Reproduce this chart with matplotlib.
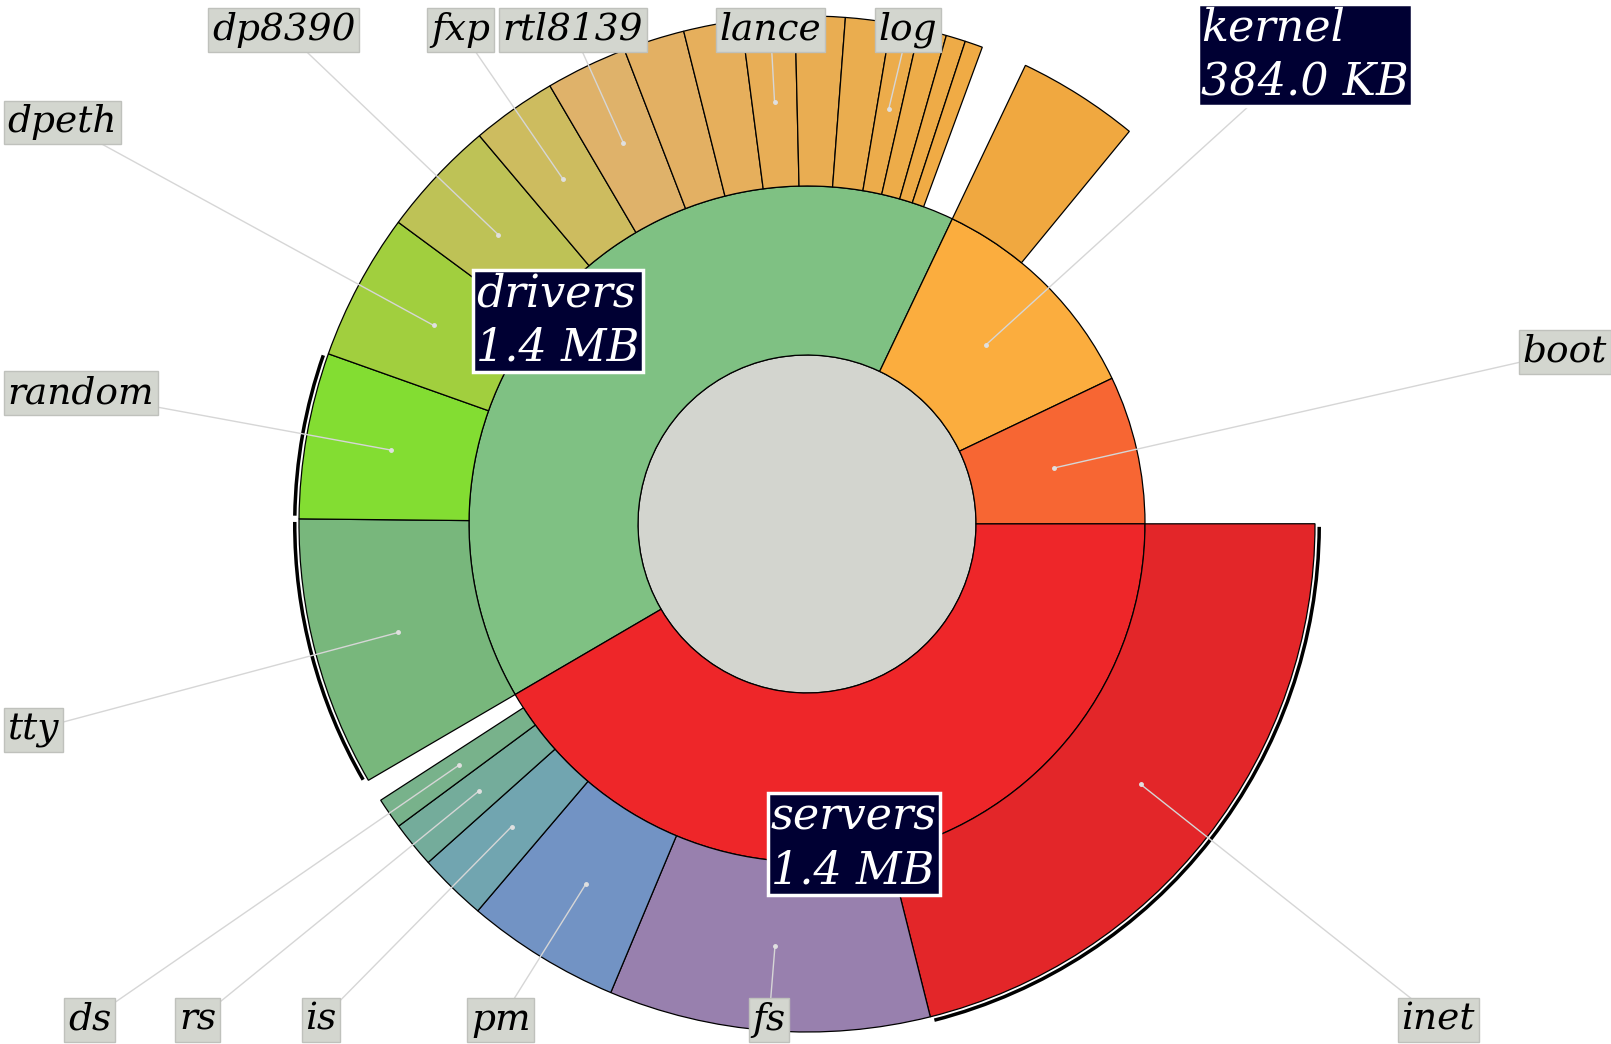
import numpy as np
import matplotlib.pyplot as plt
from matplotlib.patches import Wedge, Circle

# sizes in KB
top_names = ['drivers', 'kernel', 'boot', 'servers']
top_kb = [1435, 384, 251, 1474]

driver_names = ['tty', 'random', 'dpeth', 'dp8390', 'fxp', 'rtl8139', 'at_wini', 'floppy',
                'lance', 'printer', 'memory', 'log', 'bios_wini', 'sb16', 'pci']
driver_kb = [304, 187, 166, 132, 96, 92, 69, 65, 60, 56, 51, 32, 31, 22, 20]

kernel_names = ['system']
kernel_kb = [137]

server_names = ['inet', 'fs', 'pm', 'is', 'rs', 'ds']
server_kb = [748, 362, 174, 77, 52, 35]

children = {
    'drivers': (driver_names, driver_kb),
    'kernel': (kernel_names, kernel_kb),
    'servers': (server_names, server_kb),
}

highlighted = ['random', 'tty', 'inet']

colors = {
    'drivers': '#7fc183', 'kernel': '#fbad3e', 'boot': '#f76633', 'servers': '#ee2629',
    'tty': '#78b77c', 'random': '#83dd32', 'dpeth': '#a1cf3e', 'dp8390': '#bec256',
    'fxp': '#cdbc5f', 'rtl8139': '#dfb26a', 'at_wini': '#e3b063', 'floppy': '#e6af5c',
    'lance': '#e8ae56', 'printer': '#e9ad52', 'memory': '#eaad4f', 'log': '#ecac4b',
    'bios_wini': '#edac49', 'sb16': '#eeab47', 'pci': '#f0ab45',
    'system': '#f0a840',
    'inet': '#e32629', 'fs': '#9880ae', 'pm': '#7293c4', 'is': '#71a5b0',
    'rs': '#74ac9b', 'ds': '#78b28b',
}

# label boxes (image pixel coords, centre)
label_pos = {
    'dp8390': (283.6, 29.8), 'fxp': (460.5, 29.8), 'rtl8139': (572.5, 29.8),
    'lance': (770.6, 29.8), 'log': (907.7, 29.8),
    'dpeth': (62, 122.3), 'random': (80.5, 393), 'tty': (33.4, 730),
    'boot': (1565, 352),
    'ds': (89.4, 1020), 'rs': (197.8, 1020), 'is': (321, 1020), 'pm': (500.8, 1020),
    'fs': (769, 1020), 'inet': (1438.3, 1020),
}
big_label_pos = {'drivers': (558, 321), 'servers': (854, 844), 'kernel': (1305, 55)}
big_leader = ['kernel']

W, H = 1611, 1044
cx, cy = 807, H - 524
r0, r1, r2 = 169, 338, 508
start = 210.3


def img(x, y):
    return x, H - y


def fmt_size(kb):
    if kb >= 1024:
        return '%.1f MB' % (kb / 1024.0)
    return '%.1f KB' % kb


fig = plt.figure(figsize=(W / 100, H / 100), dpi=100)
ax = fig.add_axes([0, 0, 1, 1])
ax.set_xlim(0, W)
ax.set_ylim(0, H)
ax.set_aspect('equal')
ax.axis('off')

deg = 360.0 / sum(top_kb)
spans = {}
a = start
for name, kb in zip(top_names, top_kb):
    spans[name] = (a - kb * deg, a, r0, r1)
    a -= kb * deg
for parent, (names, kbs) in children.items():
    a = spans[parent][1]
    for name, kb in zip(names, kbs):
        spans[name] = (a - kb * deg, a, r1, r2)
        a -= kb * deg

ax.add_patch(Circle((cx, cy), r0, fc='#d3d5cf', ec='black', lw=0.9, zorder=1))
for name, (t1, t2, ri, ro) in spans.items():
    ax.add_patch(Wedge((cx, cy), ro, t1, t2, width=ro - ri, fc=colors[name],
                       ec='black', lw=0.9, zorder=1))

# black outline arcs for the selected items
for name in highlighted:
    t1, t2, ri, ro = spans[name]
    ax.add_patch(Wedge((cx, cy), ro + 6, t1 + 0.35, t2 - 0.35, width=3.5,
                       fc='black', ec='none', zorder=1))


def centroid(name):
    t1, t2, ri, ro = spans[name]
    t = np.radians((t1 + t2) / 2)
    r = (ri + ro) / 2
    return cx + r * np.cos(t), cy + r * np.sin(t)


font = dict(family='DejaVu Serif', style='italic')

for name, (x, y) in label_pos.items():
    lx, ly = img(x, y)
    px, py = centroid(name)
    ax.plot([lx, px], [ly, py], color='#d6d6d6', lw=1.0, zorder=3)
    ax.plot(px, py, 'o', ms=2.5, color='#e0e0e0', zorder=3)
    ax.text(lx, ly, name, ha='center', va='center', zorder=5, fontsize=27, **font,
            bbox=dict(boxstyle='square,pad=0.1', fc='#d3d6cf', ec='#bfc1bc', lw=1))

for name, (x, y) in big_label_pos.items():
    lx, ly = img(x, y)
    if name in big_leader:
        px, py = centroid(name)
        ax.plot([lx, px], [ly, py], color='#d6d6d6', lw=1.0, zorder=3)
        ax.plot(px, py, 'o', ms=2.5, color='#e0e0e0', zorder=3)
    kb = top_kb[top_names.index(name)]
    ax.text(lx, ly, name + '\n' + fmt_size(kb), ha='center', va='center',
            multialignment='left', color='white', zorder=6, linespacing=1.3,
            fontsize=32, **font,
            bbox=dict(boxstyle='square,pad=0.07', fc='#000033', ec='white', lw=2.5))

plt.savefig('out.png', dpi=100)
